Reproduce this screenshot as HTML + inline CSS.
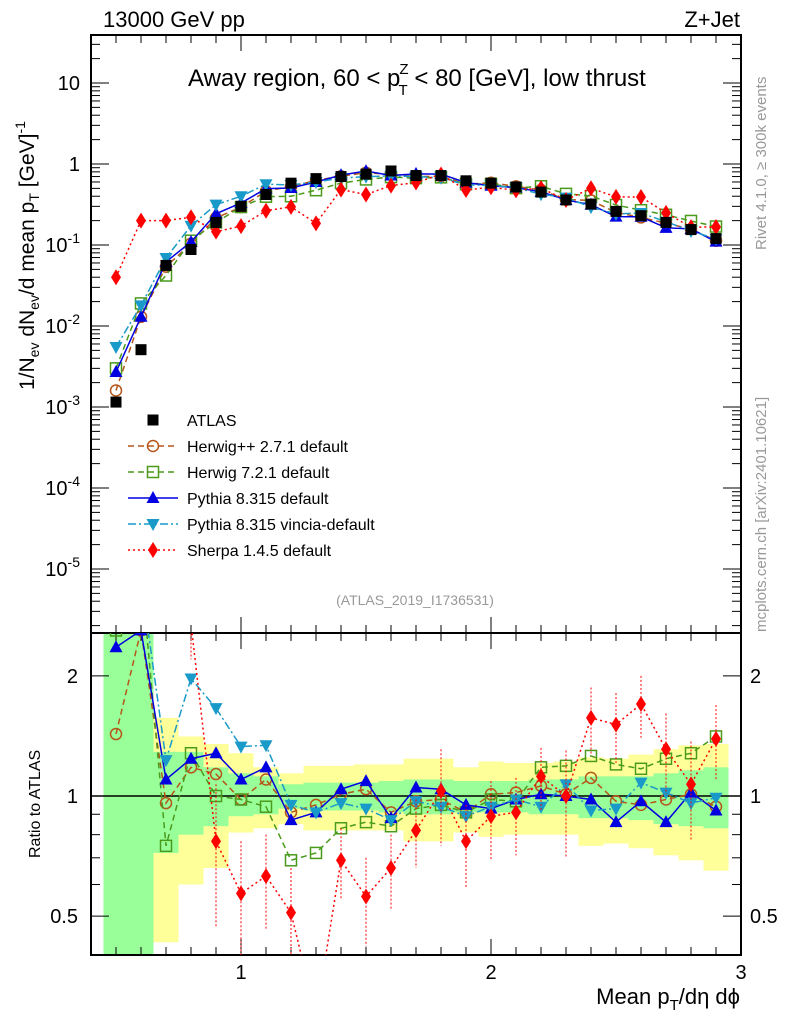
<!DOCTYPE html>
<html><head><meta charset="utf-8">
<style>
html,body{margin:0;padding:0;background:#fff;overflow:hidden;}
svg{display:block;font-family:"Liberation Sans",sans-serif;}
</style></head>
<body>
<svg id="chart" width="786" height="1024" viewBox="0 0 786 1024" xmlns="http://www.w3.org/2000/svg">
<rect x="0" y="0" width="786" height="1024" fill="#fff"/>
<g id="bands"></g>
<g id="axes"></g>
<g id="series"></g>
<text x="103" y="27" font-size="22">13000 GeV pp</text>
<text x="740" y="27" font-size="22" text-anchor="end">Z+Jet</text>
<text x="188" y="86" font-size="24">Away region, 60 &lt; p<tspan font-size="15" dx="-1" dy="-12">Z</tspan><tspan font-size="15" dx="-10" dy="21">T</tspan><tspan dy="-9"> &lt; 80 [GeV], low thrust</tspan></text>
<text x="415" y="605" font-size="14" fill="#999" text-anchor="middle">(ATLAS_2019_I1736531)</text>
<text transform="translate(766,250) rotate(-90)" font-size="15" fill="#999">Rivet 4.1.0, ≥ 300k events</text>
<text transform="translate(766,632) rotate(-90)" font-size="15" fill="#999">mcplots.cern.ch [arXiv:2401.10621]</text>
<text transform="translate(34,390) rotate(-90)" font-size="21">1/N<tspan font-size="14" dy="5">ev</tspan><tspan dy="-5"> dN</tspan><tspan font-size="14" dy="5">ev</tspan><tspan dy="-5">/d mean p</tspan><tspan font-size="14" dy="5">T</tspan><tspan dy="-5"> [GeV]</tspan><tspan font-size="14" dy="-9">-1</tspan></text>
<text transform="translate(40,858) rotate(-90)" font-size="16">Ratio to ATLAS</text>
<text x="740" y="1004" font-size="22" text-anchor="end">Mean p<tspan font-size="15" dy="6">T</tspan><tspan dy="-6">/dη dϕ</tspan></text>
<g id="legend"></g>
</svg>
<script>
const xs = [0.5,0.6,0.7,0.8,0.9,1.0,1.1,1.2,1.3,1.4,1.5,1.6,1.7,1.8,1.9,2.0,2.1,2.2,2.3,2.4,2.5,2.6,2.7,2.8,2.9];
const atlas = [1.15e-3,5.1e-3,0.056,0.088,0.19,0.30,0.42,0.58,0.66,0.70,0.75,0.82,0.72,0.72,0.62,0.58,0.52,0.45,0.36,0.32,0.26,0.23,0.19,0.155,0.12];
const herwigpp = [1.6e-3,0.013,0.054,0.104,0.216,0.294,0.462,0.528,0.627,0.707,0.78,0.746,0.698,0.706,0.564,0.586,0.53,0.477,0.364,0.355,0.252,0.219,0.186,0.157,0.113];
const herwig7 = [3e-3,0.019,0.042,0.113,0.19,0.294,0.395,0.40,0.475,0.581,0.645,0.689,0.67,0.684,0.564,0.568,0.504,0.531,0.428,0.403,0.312,0.269,0.236,0.198,0.169];
const pythia = [2.7e-3,0.013,0.062,0.109,0.243,0.33,0.496,0.505,0.60,0.728,0.818,0.722,0.756,0.749,0.589,0.539,0.51,0.455,0.36,0.314,0.224,0.223,0.163,0.158,0.11];
const vincia = [5.5e-3,0.018,0.069,0.173,0.315,0.40,0.563,0.551,0.60,0.672,0.698,0.713,0.698,0.677,0.552,0.545,0.51,0.423,0.385,0.294,0.242,0.248,0.194,0.149,0.119];
const sherpa = [0.04,0.20,0.20,0.22,0.146,0.171,0.265,0.296,0.185,0.483,0.42,0.541,0.59,0.742,0.477,0.516,0.473,0.504,0.36,0.502,0.393,0.391,0.249,0.166,0.167];
const rHerwigpp = [1.43,2.6,0.96,1.18,1.135,0.98,1.10,0.91,0.95,1.01,1.04,0.91,0.97,0.98,0.91,1.01,1.02,1.06,1.01,1.11,0.97,0.95,0.98,1.01,0.94];
const rHerwig7 = [2.6,3.7,0.75,1.28,1.0,0.98,0.94,0.69,0.72,0.83,0.86,0.84,0.93,0.95,0.91,0.98,0.97,1.18,1.19,1.26,1.20,1.17,1.24,1.28,1.41];
const rPythia = [2.36,2.6,1.10,1.24,1.28,1.10,1.18,0.87,0.91,1.04,1.09,0.88,1.05,1.04,0.95,0.93,0.98,1.01,1.0,0.98,0.86,0.97,0.86,1.02,0.92];
const rVincia = [4.8,3.5,1.23,1.97,1.66,1.33,1.34,0.95,0.91,0.96,0.93,0.87,0.97,0.94,0.89,0.94,0.98,0.94,1.07,0.92,0.93,1.08,1.02,0.96,0.99];
const rSherpa = [35,39,3.6,2.7,0.77,0.57,0.63,0.51,0.28,0.69,0.56,0.66,0.82,1.03,0.77,0.89,0.91,1.12,1.0,1.57,1.51,1.70,1.31,1.07,1.39];
const sherpaErr = [0.3,0.3,0.5,0.5,0.3,0.2,0.17,0.15,0.1,0.14,0.14,0.14,0.16,0.28,0.18,0.2,0.2,0.2,0.3,0.3,0.3,0.3,0.3,0.3,0.3];
const bandYHi = [2.6,2.6,1.57,1.41,1.35,1.28,1.18,1.14,1.19,1.19,1.20,1.20,1.24,1.24,1.18,1.22,1.21,1.21,1.22,1.25,1.24,1.27,1.31,1.34,1.35];
const bandYLo = [0.3,0.3,0.43,0.60,0.66,0.81,0.83,0.85,0.82,0.82,0.82,0.82,0.77,0.77,0.81,0.79,0.80,0.80,0.80,0.75,0.76,0.74,0.71,0.69,0.65];
const bandGHi = [2.6,2.6,1.29,1.29,1.18,1.14,1.12,1.07,1.08,1.08,1.08,1.09,1.10,1.10,1.09,1.09,1.09,1.10,1.10,1.12,1.12,1.12,1.14,1.16,1.18];
const bandGLo = [0.3,0.3,0.72,0.80,0.84,0.89,0.90,0.93,0.92,0.92,0.92,0.91,0.90,0.90,0.91,0.91,0.91,0.90,0.90,0.88,0.88,0.87,0.85,0.84,0.83];
const mainTicks = [10,1,0.1,0.01,0.001,1e-4,1e-5];
const mainTickLabels = ["10","1","10|-1","10|-2","10|-3","10|-4","10|-5"];
const ratioTicks = [2,1,0.5];
const xTicks = [1,2,3];

const NS="http://www.w3.org/2000/svg";
const L=91,R=741,MT=35,MB=633,RT=633,RB=955;
const X=v=>L+(v-0.4)*250;
const YM=v=>164-81*Math.log10(v);
const YR=v=>796-399*Math.log10(v);
function mk(tag,attrs,parent){const e=document.createElementNS(NS,tag);for(const k in attrs)e.setAttribute(k,attrs[k]);parent.appendChild(e);return e;}
const axes=document.getElementById('axes'),series=document.getElementById('series'),bands=document.getElementById('bands'),legend=document.getElementById('legend');

xs.forEach((x,i)=>{
  const x0=Math.max(L,X(x-0.05)),x1=X(x+0.05);
  const clip=v=>Math.min(RB,Math.max(RT,YR(v)));
  let r=mk('rect',{x:x0,y:clip(bandYHi[i]),width:x1-x0,height:clip(bandYLo[i])-clip(bandYHi[i]),fill:'#ffff99'},bands);
  
  
  let g=mk('rect',{x:x0,y:clip(bandGHi[i]),width:x1-x0,height:clip(bandGLo[i])-clip(bandGHi[i]),fill:'#99ff99'},bands);
  
  
});

let f1=mk('rect',{x:L,y:MT,width:R-L,height:MB-MT,fill:'none',stroke:'#000','stroke-width':2},axes);


let f2=mk('rect',{x:L,y:RT,width:R-L,height:RB-RT,fill:'none',stroke:'#000','stroke-width':2},axes);


let one=mk('line',{x1:L,x2:R,y1:YR(1),y2:YR(1),stroke:'#000','stroke-width':1.5},axes);



for(let k=5;k<=30;k++){
  const v=k/10,x=X(v),maj=(k%10===0),len=maj?16:8;
  [[MT,1],[MB,-1],[RT,1],[RB,-1]].forEach(([y,d])=>mk('line',{x1:x,x2:x,y1:y,y2:y+d*len,stroke:'#000','stroke-width':1},axes));
}
xTicks.forEach(v=>{let t=mk('text',{x:X(v),y:979,'font-size':20,'text-anchor':'middle'},axes);t.textContent=v;
  
  });

for(let e=-6;e<=1;e++){for(let m=1;m<10;m++){const v=m*Math.pow(10,e);const y=YM(v);if(y<MT||y>MB)continue;const len=m===1?18:9;
  mk('line',{x1:L,x2:L+len,y1:y,y2:y,stroke:'#000'},axes);mk('line',{x1:R,x2:R-len,y1:y,y2:y,stroke:'#000'},axes);}}
mainTicks.forEach((v,i)=>{const p=mainTickLabels[i].split('|');let t=mk('text',{x:80,y:YM(v)+7,'font-size':20,'text-anchor':'end'},axes);
  t.textContent=p[0];if(p[1]){const s=mk('tspan',{'font-size':14,dy:-9},t);s.textContent=p[1];}
  
  });
[0.5,0.6,0.7,0.8,0.9,1,2].forEach(v=>{const y=YR(v),len=(v===1||v===2||v===0.5)?18:9;
  mk('line',{x1:L,x2:L+len,y1:y,y2:y,stroke:'#000'},axes);mk('line',{x1:R,x2:R-len,y1:y,y2:y,stroke:'#000'},axes);});
ratioTicks.forEach(v=>{[[78,'end'],[750,'start']].forEach(([x,a])=>{let t=mk('text',{x:x,y:YR(v)+7,'font-size':20,'text-anchor':a},axes);t.textContent=v;
  
  });});

function marker(parent,type,x,y,col){
  if(type==='sq')mk('rect',{x:x-5.5,y:y-5.5,width:11,height:11,fill:'#000'},parent);
  else if(type==='circ')mk('circle',{cx:x,cy:y,r:5.5,fill:'none',stroke:col,'stroke-width':1.5},parent);
  else if(type==='osq')mk('rect',{x:x-5.5,y:y-5.5,width:11,height:11,fill:'none',stroke:col,'stroke-width':1.5},parent);
  else if(type==='tri')mk('polygon',{points:`${x},${y-7} ${x-6.5},${y+5} ${x+6.5},${y+5}`,fill:col},parent);
  else if(type==='itri')mk('polygon',{points:`${x},${y+7} ${x-6.5},${y-5} ${x+6.5},${y-5}`,fill:col},parent);
  else if(type==='dia')mk('polygon',{points:`${x},${y-8} ${x-5},${y} ${x},${y+8} ${x+5},${y}`,fill:col},parent);
}
const models=[
 {name:'Herwig++ 2.7.1 default',key:'herwigpp',main:herwigpp,ratio:rHerwigpp,col:'#b5561a',dash:'6,4',m:'circ'},
 {name:'Herwig 7.2.1 default',key:'herwig7',main:herwig7,ratio:rHerwig7,col:'#4a9a1c',dash:'6,4',m:'osq'},
 {name:'Pythia 8.315 default',key:'pythia',main:pythia,ratio:rPythia,col:'#0000e0',dash:'',m:'tri'},
 {name:'Pythia 8.315 vincia-default',key:'vincia',main:vincia,ratio:rVincia,col:'#1a9ac8',dash:'8,3,2,3',m:'itri'},
 {name:'Sherpa 1.4.5 default',key:'sherpa',main:sherpa,ratio:rSherpa,col:'#ff0000',dash:'2,3',m:'dia'}
];
const defs=mk('defs',{},document.getElementById('chart'));
const c1=mk('clipPath',{id:'cm'},defs);mk('rect',{x:L,y:MT,width:R-L,height:MB-MT},c1);
const c2=mk('clipPath',{id:'cr'},defs);mk('rect',{x:L,y:RT,width:R-L,height:RB-RT},c2);

models.forEach(md=>{
  const gm=mk('g',{'clip-path':'url(#cm)'},series);
  
  
  mk('polyline',{points:xs.map((x,i)=>X(x)+','+YM(md.main[i])).join(' '),fill:'none',stroke:md.col,'stroke-width':1.5,'stroke-dasharray':md.dash},gm);
  xs.forEach((x,i)=>marker(gm,md.m,X(x),YM(md.main[i]),md.col));
  const gr=mk('g',{'clip-path':'url(#cr)'},series);
  
  
  if(md.key==='sherpa'){xs.forEach((x,i)=>{const r=md.ratio[i],e=sherpaErr[i];
    mk('line',{x1:X(x),x2:X(x),y1:YR(r+e),y2:YR(Math.max(0.05,r-e)),stroke:md.col,'stroke-dasharray':'2,2'},gr);});}
  mk('polyline',{points:xs.map((x,i)=>X(x)+','+YR(md.ratio[i])).join(' '),fill:'none',stroke:md.col,'stroke-width':1.5,'stroke-dasharray':md.dash},gr);
  xs.forEach((x,i)=>marker(gr,md.m,X(x),YR(md.ratio[i]),md.col));
});
const ga=mk('g',{},series);


xs.forEach((x,i)=>marker(ga,'sq',X(x),YM(atlas[i]),'#000'));

const entries=[{name:'ATLAS',m:'sq',col:'#000',dash:null}].concat(models);
entries.forEach((e,i)=>{
  const y=420+i*26;
  const g=mk('g',{},legend);
  
  
  if(e.dash!==null)mk('line',{x1:128,x2:178,y1:y,y2:y,stroke:e.col,'stroke-width':1.5,'stroke-dasharray':e.dash},g);
  marker(g,e.m,153,y,e.col);
  const t=mk('text',{x:187,y:y+6,'font-size':16},g);t.textContent=e.name;
});
</script>
</body></html>
